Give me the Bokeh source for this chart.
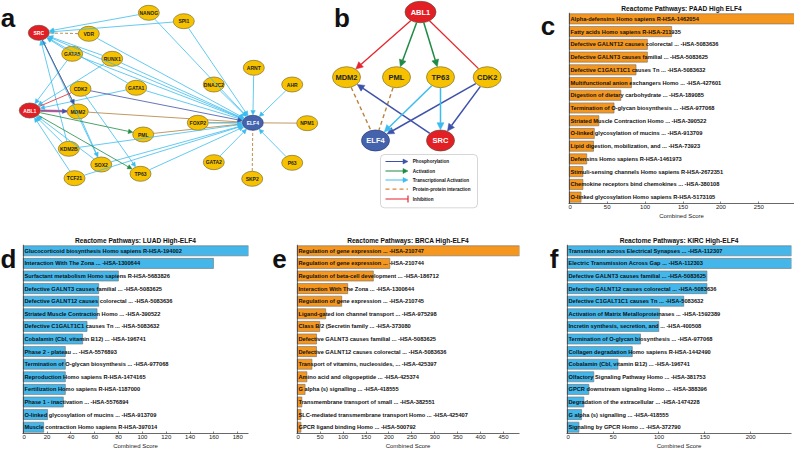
import math
from bokeh.plotting import figure
from bokeh.models import (Range1d, ColumnDataSource, Arrow, NormalHead, TeeHead,
                          Label, FixedTicker, BoxAnnotation, Span)
from bokeh.layouts import row, column
from bokeh.embed import file_html
from bokeh.resources import INLINE
from bokeh.core.properties import value

FONT = "Liberation Sans"

# ------------------------------------------------------------------ data
paad_terms = [
    "Alpha-defensins Homo sapiens R-HSA-1462054",
    "Fatty acids Homo sapiens R-HSA-211935",
    "Defective GALNT12 causes colorectal ... -HSA-5083636",
    "Defective GALNT3 causes familial ... -HSA-5083625",
    "Defective C1GALT1C1 causes Tn ... -HSA-5083632",
    "Multifunctional anion exchangers Homo ... -HSA-427601",
    "Digestion of dietary carbohydrate ... -HSA-189085",
    "Termination of O-glycan biosynthesis ... -HSA-977068",
    "Striated Muscle Contraction Homo ... -HSA-390522",
    "O-linked glycosylation of mucins ... -HSA-913709",
    "Lipid digestion, mobilization, and ... -HSA-73923",
    "Defensins Homo sapiens R-HSA-1461973",
    "Stimuli-sensing channels Homo sapiens R-HSA-2672351",
    "Chemokine receptors bind chemokines ... -HSA-380108",
    "O-linked glycosylation Homo sapiens R-HSA-5173105",
]
paad_scores = [297, 135, 103, 103, 88, 82, 68, 59, 39, 33, 32, 23, 18, 18, 15.5]

luad_terms = [
    "Glucocorticoid biosynthesis Homo sapiens R-HSA-194002",
    "Interaction With The Zona ... -HSA-1300644",
    "Surfactant metabolism Homo sapiens R-HSA-5683826",
    "Defective GALNT3 causes familial ... -HSA-5083625",
    "Defective GALNT12 causes colorectal ... -HSA-5083636",
    "Striated Muscle Contraction Homo ... -HSA-390522",
    "Defective C1GALT1C1 causes Tn ... -HSA-5083632",
    "Cobalamin (Cbl, vitamin B12) ... -HSA-196741",
    "Phase 2 - plateau ... -HSA-5576893",
    "Termination of O-glycan biosynthesis ... -HSA-977068",
    "Reproduction Homo sapiens R-HSA-1474165",
    "Fertilization Homo sapiens R-HSA-1187000",
    "Phase 1 - inactivation ... -HSA-5576894",
    "O-linked glycosylation of mucins ... -HSA-913709",
    "Muscle contraction Homo sapiens R-HSA-397014",
]
luad_scores = [189, 159.6, 79.8, 63.3, 63.3, 61.9, 53.5, 49.8, 35.3, 35.3, 35.3, 35.3, 33.6, 20.4, 17.1]

brca_terms = [
    "Regulation of gene expression ... -HSA-210747",
    "Regulation of gene expression ... -HSA-210744",
    "Regulation of beta-cell development ... -HSA-186712",
    "Interaction With The Zona ... -HSA-1300644",
    "Regulation of gene expression ... -HSA-210745",
    "Ligand-gated ion channel transport ... -HSA-975298",
    "Class B/2 (Secretin family ... -HSA-373080",
    "Defective GALNT3 causes familial ... -HSA-5083625",
    "Defective GALNT12 causes colorectal ... -HSA-5083636",
    "Transport of vitamins, nucleosides, ... -HSA-425397",
    "Amino acid and oligopeptide ... -HSA-425374",
    "G alpha (s) signalling ... -HSA-418555",
    "Transmembrane transport of small ... -HSA-382551",
    "SLC-mediated transmembrane transport Homo ... -HSA-425407",
    "GPCR ligand binding Homo ... -HSA-500792",
]
brca_scores = [485, 202, 166, 110, 97, 62, 49, 42, 42, 32, 21, 17, 10, 8, 8]

kirc_terms = [
    "Transmission across Electrical Synapses ... -HSA-112307",
    "Electric Transmission Across Gap ... -HSA-112303",
    "Defective GALNT3 causes familial ... -HSA-5083625",
    "Defective GALNT12 causes colorectal ... -HSA-5083636",
    "Defective C1GALT1C1 causes Tn ... -HSA-5083632",
    "Activation of Matrix Metalloproteinases ... -HSA-1592389",
    "Incretin synthesis, secretion, and ... -HSA-400508",
    "Termination of O-glycan biosynthesis ... -HSA-977068",
    "Collagen degradation Homo sapiens R-HSA-1442490",
    "Cobalamin (Cbl, vitamin B12) ... -HSA-196741",
    "Olfactory Signaling Pathway Homo ... -HSA-381753",
    "GPCR downstream signaling Homo ... -HSA-388396",
    "Degradation of the extracellular ... -HSA-1474228",
    "G alpha (s) signalling ... -HSA-418555",
    "Signaling by GPCR Homo ... -HSA-372790",
]
kirc_scores = [244.5, 244.5, 152.3, 152.3, 127, 100.5, 99.8, 79.9, 70.9, 55.3, 28.9, 23.5, 18.1, 15.6, 12.7]

paad_ticks = [0, 50, 100, 150, 200, 250]
luad_ticks = [0, 20, 40, 60, 80, 100, 120, 140, 160, 180]
brca_ticks = [0, 50, 100, 150, 200, 250, 300, 350, 400, 450]
kirc_ticks = [0, 50, 100, 150, 200]

# network a: node layout coordinates
net_a_nodes = {
    "SRC": (38.3, 32.3), "VDR": (88.3, 33.3), "NANOG": (148.3, 12.3), "SPI1": (183.3, 20.7),
    "GATA5": (71.7, 53.3), "RUNX1": (111.7, 58.3), "CDK2": (80, 88.3), "GATA1": (135.7, 87.3),
    "DNAJC2": (213.3, 84), "ARNT": (253.3, 67.3), "ABL1": (29.3, 110), "MDM2": (77.3, 111),
    "FOXP2": (197.3, 122.3), "ELF4": (252.3, 122.3), "PML": (142.7, 134), "KDM2B": (68.3, 148.3),
    "GATA2": (213.3, 161.7), "SOX2": (100.7, 164), "TCF21": (74, 177.7), "TP63": (140, 173.3),
    "SKP2": (251.7, 178.3), "AHR": (291.7, 84), "NPM1": (306.7, 122.7), "P63": (291.7, 162.3),
}
net_a_red = ["SRC", "ABL1"]
net_a_blue = ["ELF4"]
net_a_trans = [
    ("NANOG", "SRC"), ("SPI1", "SRC"), ("GATA5", "SRC"), ("RUNX1", "SRC"), ("GATA1", "SRC"),
    ("KDM2B", "SRC"), ("SOX2", "SRC"),
    ("VDR", "ELF4"), ("NANOG", "ELF4"), ("SPI1", "ELF4"), ("GATA5", "ELF4"), ("RUNX1", "ELF4"),
    ("GATA1", "ELF4"), ("DNAJC2", "ELF4"), ("ARNT", "ELF4"), ("FOXP2", "ELF4"), ("GATA2", "ELF4"),
    ("SOX2", "ELF4"), ("TCF21", "ELF4"), ("TP63", "ELF4"), ("KDM2B", "ELF4"), ("AHR", "ELF4"),
    ("P63", "ELF4"), ("SRC", "ELF4"),
    ("GATA5", "ABL1"), ("RUNX1", "ABL1"), ("GATA1", "ABL1"), ("KDM2B", "ABL1"), ("SOX2", "ABL1"),
    ("TCF21", "ABL1"), ("CDK2", "TP63"), ("MDM2", "SOX2"),
]
net_a_phos = [("SRC", "MDM2"), ("CDK2", "ELF4"), ("ABL1", "MDM2")]
net_a_act = [("ABL1", "PML"), ("ABL1", "TP63")]
net_a_inhib = [("ABL1", "CDK2")]
net_a_ppi = [("MDM2", "ELF4"), ("PML", "ELF4"), ("FOXP2", "ELF4"), ("NPM1", "ELF4"), ("SRC", "MDM2")]
net_a_ppi_dash = [("VDR", "SRC"), ("SKP2", "ELF4")]

# network b
net_b_nodes = {
    "ABL1": (420, 11.5), "MDM2": (346, 76.7), "PML": (396, 76.7), "TP63": (440, 76.7),
    "CDK2": (486.7, 76.7), "ELF4": (375, 140), "SRC": (440, 140),
}
net_b_red = ["ABL1", "SRC"]
net_b_blue = ["ELF4"]
net_b_phos = [("SRC", "MDM2"), ("CDK2", "ELF4"), ("CDK2", "SRC")]
net_b_act = [("ABL1", "PML"), ("ABL1", "TP63")]
net_b_trans = [("TP63", "ELF4"), ("TP63", "SRC")]
net_b_inhib_arrow = [("ABL1", "MDM2")]
net_b_inhib = [("ABL1", "CDK2")]
net_b_ppi = [("MDM2", "ELF4"), ("PML", "ELF4")]

legend_labels = ["Phosphorylation", "Activation", "Transcriptional Activation",
                 "Protein-protein interaction", "Inhibition"]

# ------------------------------------------------------------------ styles
C_TRANS = "#3cbcee"
C_PHOS = "#3f52a9"
C_ACT = "#1f8a44"
C_RED = "#e5252c"
C_PPI = "#c19a62"
C_PPI_B = "#b8843f"
C_YEL = "#f6c200"
C_NRED = "#e31f26"
C_NBLUE = "#4563ad"
ORANGE = "#f5971f"
BLUE = "#44b6e9"


def boundary(cx, cy, a, b, tx, ty):
    dx, dy = tx - cx, ty - cy
    k = 1.0 / math.sqrt((dx / a) ** 2 + (dy / b) ** 2)
    return cx + dx * k, cy + dy * k


def edge_source(nodes, edges, a, b, gap=0.3):
    xs, ys, xe, ye = [], [], [], []
    for s, t in edges:
        x0, y0 = nodes[s]
        x1, y1 = nodes[t]
        sx, sy = boundary(x0, y0, a + gap, b + gap, x1, y1)
        ex, ey = boundary(x1, y1, a + gap, b + gap, x0, y0)
        xs.append(sx); ys.append(sy); xe.append(ex); ye.append(ey)
    return ColumnDataSource(dict(x0=xs, y0=ys, x1=xe, y1=ye))


def add_arrows(p, src, color, width, size, head=True, dash="solid", alpha=1.0):
    h = NormalHead(size=size, fill_color=color, line_color=color, line_width=0.5) if head else None
    p.add_layout(Arrow(end=h, start=None, x_start="x0", y_start="y0", x_end="x1", y_end="y1",
                       source=src, line_color=color, line_width=width, line_dash=dash,
                       line_alpha=alpha))


def draw_nodes(p, nodes, reds, blues, w, h, fsize):
    names = list(nodes.keys())
    xs = [nodes[n][0] for n in names]
    ys = [nodes[n][1] for n in names]
    fills = [C_NRED if n in reds else (C_NBLUE if n in blues else C_YEL) for n in names]
    lines = ["#6b4a3a" if n in reds else ("#2c3e78" if n in blues else "#7d6b2c") for n in names]
    tcol = ["white" if (n in reds or n in blues) else "#222222" for n in names]
    src = ColumnDataSource(dict(x=xs, y=ys, f=fills, l=lines, t=names, tc=tcol))
    p.ellipse(x="x", y="y", width=w, height=h, fill_color="f", line_color="l",
              line_width=0.7, source=src)
    p.text(x="x", y="y", text="t", text_color="tc", text_align="center",
           text_baseline="middle", text_font=value(FONT), text_font_size=fsize,
           text_font_style="bold", source=src)


# ------------------------------------------------------------------ network figure (panels a, b)
net = figure(width=540, height=225, x_range=Range1d(0, 540), y_range=Range1d(225, 0),
             output_backend="svg", toolbar_location=None, min_border=0,
             x_axis_location=None, y_axis_location=None, outline_line_color=None)
net.xgrid.visible = False
net.ygrid.visible = False

AW, AH = 21, 15
add_arrows(net, edge_source(net_a_nodes, net_a_trans, AW / 2, AH / 2), C_TRANS, 0.8, 4.5)
src_ppi = edge_source(net_a_nodes, net_a_ppi, AW / 2, AH / 2)
net.segment(x0="x0", y0="y0", x1="x1", y1="y1", source=src_ppi, line_color=C_PPI, line_width=1.0)
src_ppid = edge_source(net_a_nodes, net_a_ppi_dash, AW / 2, AH / 2)
net.segment(x0="x0", y0="y0", x1="x1", y1="y1", source=src_ppid, line_color=C_PPI,
            line_width=1.1, line_dash="3 2")
src_am = edge_source(net_a_nodes, [("ABL1", "MDM2")], AW / 2, AH / 2)
net.segment(x0="x0", y0="y0", x1="x1", y1="y1", source=src_am, line_color="#e0457a",
            line_width=2.6, line_alpha=0.8)
add_arrows(net, edge_source(net_a_nodes, net_a_phos, AW / 2, AH / 2), C_PHOS, 0.8, 4.5)
add_arrows(net, edge_source(net_a_nodes, net_a_act, AW / 2, AH / 2), C_ACT, 0.8, 4.5)
add_arrows(net, edge_source(net_a_nodes, net_a_inhib, AW / 2, AH / 2), C_RED, 0.8, 4.5, head=False)
draw_nodes(net, net_a_nodes, net_a_red, net_a_blue, AW, AH, "5px")

BW, BH = 28, 21
add_arrows(net, edge_source(net_b_nodes, net_b_inhib_arrow, BW / 2, BH / 2), C_RED, 1.3, 7)
add_arrows(net, edge_source(net_b_nodes, net_b_inhib, BW / 2, BH / 2), C_RED, 1.3, 7, head=False)
add_arrows(net, edge_source(net_b_nodes, net_b_act, BW / 2, BH / 2), C_ACT, 1.5, 7)
add_arrows(net, edge_source(net_b_nodes, net_b_phos, BW / 2, BH / 2), C_PHOS, 1.5, 7)
add_arrows(net, edge_source(net_b_nodes, net_b_trans, BW / 2, BH / 2), C_TRANS, 1.5, 7)
src_bp = edge_source(net_b_nodes, net_b_ppi, BW / 2, BH / 2)
net.segment(x0="x0", y0="y0", x1="x1", y1="y1", source=src_bp, line_color=C_PPI_B,
            line_width=1.4, line_dash="4 3")
draw_nodes(net, {k: v for k, v in net_b_nodes.items() if k != "ABL1"}, net_b_red, net_b_blue,
           BW, BH, "7.5px")
draw_nodes(net, {"ABL1": net_b_nodes["ABL1"]}, net_b_red, net_b_blue, 31, 21.5, "7.5px")

net.add_layout(BoxAnnotation(left=380, right=477, top=154, bottom=207.3, fill_color="white",
                             fill_alpha=1.0, line_color="#555555", line_width=0.8,
                             border_radius=4, level="underlay"))
leg_y = [161, 170.5, 179.5, 188.7, 198.5]
leg_colors = [C_PHOS, C_ACT, C_TRANS, "#e0863a", C_RED]
for i, (lab, col) in enumerate(zip(legend_labels, leg_colors)):
    ly = leg_y[i]
    src = ColumnDataSource(dict(x0=[385], y0=[ly], x1=[407.5], y1=[ly]))
    if i < 3:
        add_arrows(net, src, col, 1.1, 5)
    elif i == 3:
        net.segment(x0="x0", y0="y0", x1="x1", y1="y1", source=src, line_color=col,
                    line_width=1.3, line_dash="4 3")
    else:
        net.add_layout(Arrow(end=TeeHead(size=7, line_color=col, line_width=1.2), x_start="x0",
                             y_start="y0", x_end="x1", y_end="y1", source=src,
                             line_color=col, line_width=1.2))
    net.add_layout(Label(x=412.3, y=ly, text=lab, text_font=FONT, text_font_size="4.6px",
                         text_font_style="bold", text_baseline="middle", text_color="#111111"))

letters_ab = ColumnDataSource(dict(x=[7.5, 341.5], y=[17, 17], t=["a", "b"]))
net.text(x="x", y="y", text="t", text_font=value(FONT), text_font_size="26px",
         text_font_style="bold", text_align="center", text_baseline="middle",
         text_color="#111111", source=letters_ab)


# ------------------------------------------------------------------ bar panels
def bar_panel(title, terms, scores, ticks, color, lw, width, height, br, bt, bb, letter, lpx, lpy):
    n = len(terms)
    xmax = max(scores)
    fw = width - lw - br
    pad = xmax / fw * 0.8
    p = figure(width=width - lw, height=height, x_range=Range1d(-pad, xmax),
               y_range=Range1d(n + 0.5, 0.5), output_backend="svg", toolbar_location=None,
               min_border_left=0, min_border_right=br, min_border_top=bt, min_border_bottom=bb,
               outline_line_color=None, y_axis_location=None)
    p.xgrid.visible = False
    p.ygrid.visible = False
    pos = list(range(1, n + 1))
    src = ColumnDataSource(dict(y=pos, r=scores, t=terms))
    p.hbar(y="y", left=0, right="r", height=0.8, fill_color=color, line_color="#6f6f6f",
           line_width=0.6, source=src)
    p.add_layout(Span(location=0, dimension="height", line_color="#262626", line_width=0.8))
    p.text(x=0, y="y", text="t", x_offset=1.2, text_font=value(FONT), text_font_size="5.7px",
           text_font_style="bold", text_baseline="middle", text_align="left",
           text_color="#111111", source=src)
    p.title.text = title
    p.title.text_font = FONT
    p.title.text_font_size = "6.6px"
    p.title.text_font_style = "bold"
    p.title.align = "center"
    p.title.standoff = 1
    p.title.text_color = "#111111"
    ax = p.xaxis[0]
    ax.ticker = FixedTicker(ticks=ticks)
    ax.minor_tick_line_color = None
    ax.major_tick_in = 2
    ax.major_tick_out = 0
    ax.major_tick_line_color = "#333333"
    ax.major_tick_line_width = 0.6
    ax.axis_line_color = "#262626"
    ax.axis_line_width = 0.7
    ax.major_label_text_font = FONT
    ax.major_label_text_font_size = "6px"
    ax.major_label_text_color = "#222222"
    ax.major_label_standoff = 1
    ax.axis_label = "Combined Score"
    ax.axis_label_text_font = FONT
    ax.axis_label_text_font_size = "6px"
    ax.axis_label_text_font_style = "normal"
    ax.axis_label_text_color = "#222222"
    ax.axis_label_standoff = 1

    lf = figure(width=lw, height=height, x_range=Range1d(0, lw), y_range=Range1d(height, 0),
                output_backend="svg", toolbar_location=None, min_border=0,
                x_axis_location=None, y_axis_location=None, outline_line_color=None)
    lf.xgrid.visible = False
    lf.ygrid.visible = False
    lsrc = ColumnDataSource(dict(x=[lpx], y=[lpy], t=[letter]))
    lf.text(x="x", y="y", text="t", text_font=value(FONT), text_font_size="26px",
            text_font_style="bold", text_align="center", text_baseline="middle",
            text_color="#111111", source=lsrc)
    return row(lf, p)


pc = bar_panel("Reactome Pathways: PAAD High ELF4", paad_terms, paad_scores, paad_ticks, ORANGE,
               28, 254, 225, 0, 12, 22, "c", 7.5, 16)
pd_ = bar_panel("Reactome Pathways: LUAD High-ELF4", luad_terms, luad_scores, luad_ticks, BLUE,
                22, 265, 226, 17, 19, 15, "d", 8, 17)
pe = bar_panel("Reactome Pathways: BRCA High-ELF4", brca_terms, brca_scores, brca_ticks, ORANGE,
               31, 265, 226, 11, 19, 16, "e", 14, 17)
pf = bar_panel("Reactome Pathways: KIRC High-ELF4", kirc_terms, kirc_scores, kirc_ticks, BLUE,
               36, 264, 226, 3, 19, 15, "f", 23.5, 17)

layout = column(row(net, pc), row(pd_, pe, pf))
open("out.html", "w").write(file_html(layout, INLINE))
